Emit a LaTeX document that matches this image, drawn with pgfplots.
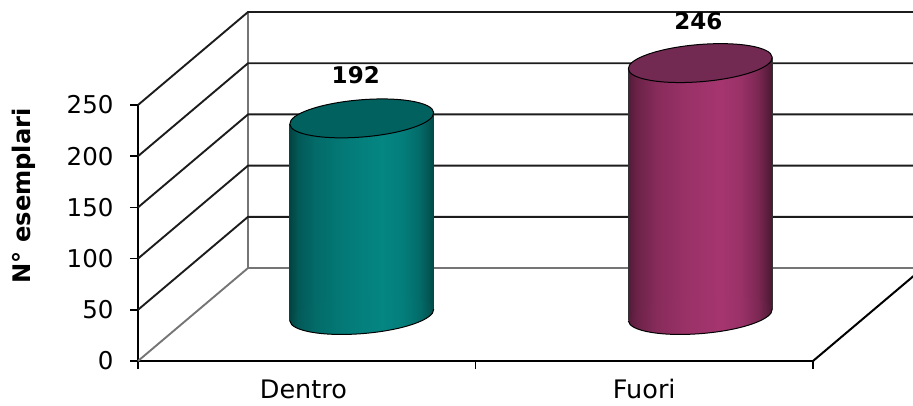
\documentclass[border=0pt]{standalone}
\usepackage{fontspec}
\setmainfont{DejaVu Sans}
\usepackage{pgfplots}
\pgfplotsset{compat=1.18}

\definecolor{wallgray}{HTML}{757575}
\definecolor{gridink}{HTML}{1C1C1C}
\definecolor{tealtopface}{HTML}{00615F}
\definecolor{plumtopface}{HTML}{722A52}
\definecolor{tealbright}{HTML}{048683}
\definecolor{plumbright}{HTML}{A5356F}

% Cylinder wall shadings: dark edges, bright band right of the centre
\pgfdeclarehorizontalshading{tealwall}{100bp}{
  color(0bp)=(black!50!tealbright);
  color(25bp)=(black!50!tealbright);
  color(28bp)=(black!33!tealbright);
  color(34bp)=(black!20!tealbright);
  color(44bp)=(black!9!tealbright);
  color(57bp)=(tealbright);
  color(64bp)=(black!6!tealbright);
  color(70bp)=(black!20!tealbright);
  color(75bp)=(black!45!tealbright);
  color(100bp)=(black!45!tealbright)}
\pgfdeclarehorizontalshading{plumwall}{100bp}{
  color(0bp)=(black!50!plumbright);
  color(25bp)=(black!50!plumbright);
  color(28bp)=(black!35!plumbright);
  color(35bp)=(black!18!plumbright);
  color(45bp)=(black!7!plumbright);
  color(57bp)=(plumbright);
  color(64bp)=(black!7!plumbright);
  color(70bp)=(black!25!plumbright);
  color(75bp)=(black!55!plumbright);
  color(100bp)=(black!55!plumbright)}

% Tilted end caps of the cylinders; the foot shows only its lower rim
\newcommand{\capoutline}{\pgfpathellipse{\pgfpointorigin}{\pgfqpoint{71.96pt}{5.89pt}}{\pgfqpoint{-1.52pt}{18.54pt}}}
\newcommand{\footrim}{\pgfpathmoveto{\pgfqpoint{-71.96pt}{-5.89pt}}\pgfpatharcaxes{180}{360}{\pgfqpoint{71.96pt}{5.89pt}}{\pgfqpoint{-1.52pt}{18.54pt}}}
\pgfdeclareplotmark{tealfoot}{\pgfsetlinewidth{1pt}\pgfsetstrokecolor{black}\capoutline\pgfshadepath{tealwall}{0}\pgfusepath{discard}\footrim\pgfusepath{stroke}}
\pgfdeclareplotmark{plumfoot}{\pgfsetlinewidth{1pt}\pgfsetstrokecolor{black}\capoutline\pgfshadepath{plumwall}{0}\pgfusepath{discard}\footrim\pgfusepath{stroke}}
\pgfdeclareplotmark{tealcap}{\pgfsetlinewidth{1pt}\pgfsetstrokecolor{black}\pgfsetfillcolor{tealtopface}\capoutline\pgfusepath{fill,stroke}}
\pgfdeclareplotmark{plumcap}{\pgfsetlinewidth{1pt}\pgfsetstrokecolor{black}\pgfsetfillcolor{plumtopface}\capoutline\pgfusepath{fill,stroke}}

\newcommand{\valuefont}{\fontsize{24.5}{28}\selectfont}
\newcommand{\namefont}{\fontsize{25.5}{30}\selectfont}
\newcommand{\chartbold}{\fontsize{23}{28}\selectfont\bfseries}
\newcommand{\labelbold}{\fontsize{24.2}{28}\selectfont\bfseries}

\begin{document}
\begin{tikzpicture}
\path[use as bounding box,clip] (-138pt,-44pt) rectangle (775pt,361pt);

% Frame: walls, floor and value axis
\begin{axis}[
  at={(0pt,0pt)},anchor=south west,
  x=337.5pt,y=1.024pt,
  xmin=0,xmax=2,ymin=0,ymax=250,
  clip=false,
  axis x line=bottom,axis y line=left,
  axis line style={-,black,line width=2pt},
  ytick={0,50,100,150,200,250},
  xtick={0.49,1.5},
  xticklabels={Dentro,Fuori},
  minor xtick={0,1,2},
  tick align=outside,
  major tick length=8pt,minor tick length=8pt,
  xtick style={draw=none},
  minor x tick style={black,line width=1.5pt,draw=black},
  ytick style={black,line width=1.5pt},
  yticklabel style={font=\valuefont,xshift=-13pt},
  xticklabel style={font=\namefont,yshift=-7pt},
  ylabel={N° esemplari},
  every axis y label/.style={font=\labelbold,at={(axis description cs:-0.169,0.645)},rotate=90,anchor=center},
  /pgf/number format/assume math mode=true,
]
\addplot[wallgray,line width=2pt] coordinates {(0.326,90.8) (0.326,340.8)};
\addplot[wallgray,line width=1.9pt] coordinates {(0,0) (0.326,90.8) (2.326,90.8)};
\addplot[gridink,line width=1.9pt] coordinates {(0,50) (0.326,140.8) (2.326,140.8)};
\addplot[gridink,line width=1.9pt] coordinates {(0,100) (0.326,190.8) (2.326,190.8)};
\addplot[gridink,line width=1.9pt] coordinates {(0,150) (0.326,240.8) (2.326,240.8)};
\addplot[gridink,line width=1.9pt] coordinates {(0,200) (0.326,290.8) (2.326,290.8)};
\addplot[gridink,line width=1.9pt] coordinates {(0,250) (0.326,340.8) (2.326,340.8)};
\addplot[black,line width=2pt] coordinates {(2,0) (2.326,90.8)};
\end{axis}

% Cylinders, set back to the middle of the floor
\begin{axis}[
  at={(55pt,46pt)},anchor=south west,
  x=337.5pt,y=1.024pt,
  xmin=0,xmax=2,ymin=0,ymax=250,
  disabledatascaling,
  clip=false,
  hide axis,
  /pgf/number format/assume math mode=true,
  every node near coord/.style={font=\chartbold,black,anchor=center,yshift=43pt},
]
% Dentro
\addplot[only marks,mark=tealfoot] coordinates {(0.5,0)};
\addplot[ybar,bar width=144pt,draw=none,shading=tealwall,
  cm={1,0.0764,0,1,(0pt,-12.89pt)}] coordinates {(0.5,192)};
\addplot[black!80,line width=0.9pt,cm={1,0.0764,0,1,(0pt,-12.89pt)}] coordinates {(0.2867,0) (0.2867,192)};
\addplot[black!80,line width=0.9pt,cm={1,0.0764,0,1,(0pt,-12.89pt)}] coordinates {(0.7133,0) (0.7133,192)};
\addplot[only marks,mark=tealcap,nodes near coords,
  every node near coord/.append style={xshift=-6pt}] coordinates {(0.5,192)};
% Fuori
\addplot[only marks,mark=plumfoot] coordinates {(1.503,0)};
\addplot[ybar,bar width=144pt,draw=none,shading=plumwall,
  cm={1,0.0764,0,1,(0pt,-38.75pt)}] coordinates {(1.503,246)};
\addplot[black!80,line width=0.9pt,cm={1,0.0764,0,1,(0pt,-38.75pt)}] coordinates {(1.2897,0) (1.2897,246)};
\addplot[black!80,line width=0.9pt,cm={1,0.0764,0,1,(0pt,-38.75pt)}] coordinates {(1.7163,0) (1.7163,246)};
\addplot[only marks,mark=plumcap,nodes near coords,
  every node near coord/.append style={xshift=-2pt,yshift=-1.5pt}] coordinates {(1.503,246)};
\end{axis}
\end{tikzpicture}
\end{document}
